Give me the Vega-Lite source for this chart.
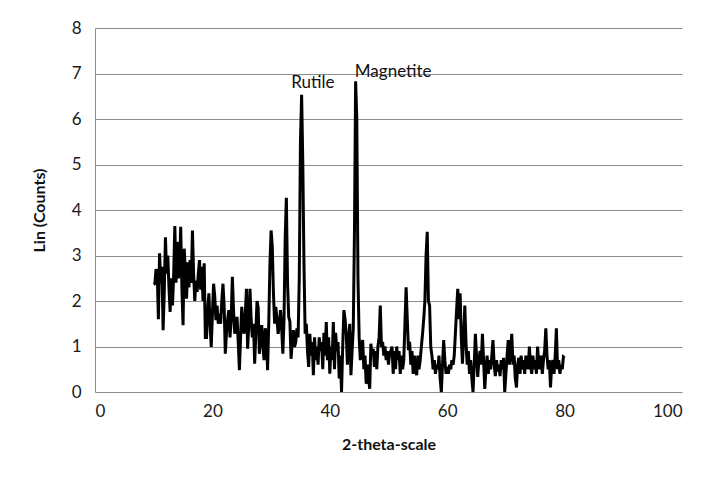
{
  "$schema": "https://vega.github.io/schema/vega-lite/v6.json",
  "autosize": "none",
  "width": 587,
  "height": 364,
  "padding": {"left": 95, "top": 28, "right": 36, "bottom": 102},
  "background": "white",
  "config": {
    "font": "Lato",
    "view": {"stroke": null},
    "axis": {
      "labelFont": "Lato",
      "labelFontSize": 17,
      "labelColor": "#1a1a1a",
      "titleFont": "Lato",
      "titleFontSize": 16,
      "titleFontWeight": "bold",
      "titleColor": "#111111",
      "ticks": false
    }
  },
  "datasets": {
    "scan": [
      {"t":10.0,"c":2.36},{"t":10.2,"c":2.38},{"t":10.4,"c":2.7},{"t":10.6,"c":2.62},{"t":10.8,"c":1.6},
      {"t":11.0,"c":3.05},{"t":11.2,"c":2.4},{"t":11.4,"c":2.75},{"t":11.6,"c":1.36},{"t":11.8,"c":2.2},
      {"t":12.0,"c":3.4},{"t":12.2,"c":2.6},{"t":12.4,"c":3.0},{"t":12.6,"c":2.3},{"t":12.8,"c":1.76},
      {"t":13.0,"c":2.5},{"t":13.2,"c":1.9},{"t":13.4,"c":2.55},{"t":13.6,"c":3.65},{"t":13.8,"c":2.4},
      {"t":14.0,"c":3.3},{"t":14.2,"c":2.5},{"t":14.4,"c":2.7},{"t":14.6,"c":3.63},{"t":14.8,"c":2.3},
      {"t":15.0,"c":1.47},{"t":15.2,"c":3.15},{"t":15.4,"c":2.6},{"t":15.6,"c":2.05},{"t":15.8,"c":2.85},
      {"t":16.0,"c":2.3},{"t":16.2,"c":2.9},{"t":16.4,"c":2.4},{"t":16.6,"c":3.55},{"t":16.8,"c":2.6},
      {"t":17.0,"c":2.0},{"t":17.2,"c":2.45},{"t":17.4,"c":2.2},{"t":17.6,"c":2.6},{"t":17.8,"c":2.9},
      {"t":18.0,"c":2.25},{"t":18.2,"c":2.75},{"t":18.4,"c":2.0},{"t":18.6,"c":2.83},{"t":18.8,"c":1.2},
      {"t":19.0,"c":1.2},{"t":19.2,"c":1.8},{"t":19.4,"c":2.17},{"t":19.6,"c":1.5},{"t":19.8,"c":0.99},
      {"t":20.0,"c":1.7},{"t":20.2,"c":2.38},{"t":20.4,"c":2.1},{"t":20.6,"c":1.58},{"t":20.8,"c":1.9},
      {"t":21.0,"c":1.5},{"t":21.2,"c":1.72},{"t":21.4,"c":1.5},{"t":21.6,"c":2.0},{"t":21.8,"c":2.38},
      {"t":22.0,"c":1.9},{"t":22.2,"c":0.84},{"t":22.4,"c":1.3},{"t":22.6,"c":1.6},{"t":22.8,"c":1.8},
      {"t":23.0,"c":1.2},{"t":23.2,"c":1.6},{"t":23.4,"c":2.53},{"t":23.6,"c":1.8},{"t":23.8,"c":1.28},
      {"t":24.0,"c":1.5},{"t":24.2,"c":1.65},{"t":24.4,"c":1.1},{"t":24.6,"c":0.48},{"t":24.8,"c":1.2},
      {"t":25.0,"c":1.87},{"t":25.2,"c":1.5},{"t":25.4,"c":1.28},{"t":25.6,"c":1.7},{"t":25.8,"c":2.27},
      {"t":26.0,"c":0.95},{"t":26.2,"c":1.5},{"t":26.4,"c":2.27},{"t":26.6,"c":1.6},{"t":26.8,"c":1.2},
      {"t":27.0,"c":1.5},{"t":27.2,"c":0.62},{"t":27.4,"c":1.3},{"t":27.6,"c":2.0},{"t":27.8,"c":1.85},
      {"t":28.0,"c":0.84},{"t":28.2,"c":1.2},{"t":28.4,"c":1.47},{"t":28.6,"c":1.0},{"t":28.8,"c":0.7},
      {"t":29.0,"c":1.4},{"t":29.2,"c":1.2},{"t":29.4,"c":0.48},{"t":29.6,"c":1.5},{"t":29.8,"c":2.8},
      {"t":30.0,"c":3.55},{"t":30.2,"c":3.2},{"t":30.4,"c":2.17},{"t":30.6,"c":1.5},{"t":30.8,"c":1.87},
      {"t":31.0,"c":1.6},{"t":31.2,"c":1.28},{"t":31.4,"c":1.5},{"t":31.6,"c":1.8},{"t":31.8,"c":1.4},
      {"t":32.0,"c":0.84},{"t":32.2,"c":1.6},{"t":32.4,"c":3.4},{"t":32.6,"c":4.27},{"t":32.8,"c":2.4},
      {"t":33.0,"c":1.65},{"t":33.2,"c":1.55},{"t":33.4,"c":0.73},{"t":33.6,"c":1.1},{"t":33.8,"c":1.36},
      {"t":34.0,"c":0.99},{"t":34.2,"c":1.1},{"t":34.4,"c":1.4},{"t":34.6,"c":1.2},{"t":34.8,"c":2.5},
      {"t":35.0,"c":5.5},{"t":35.2,"c":6.53},{"t":35.4,"c":5.03},{"t":35.6,"c":2.8},{"t":35.8,"c":1.28},
      {"t":36.0,"c":1.5},{"t":36.2,"c":0.9},{"t":36.4,"c":0.55},{"t":36.6,"c":1.28},{"t":36.8,"c":0.8},
      {"t":37.0,"c":1.1},{"t":37.2,"c":0.37},{"t":37.4,"c":1.2},{"t":37.6,"c":0.7},{"t":37.8,"c":1.0},
      {"t":38.0,"c":0.6},{"t":38.2,"c":1.2},{"t":38.4,"c":0.9},{"t":38.6,"c":1.1},{"t":38.8,"c":0.5},
      {"t":39.0,"c":1.3},{"t":39.2,"c":0.8},{"t":39.4,"c":1.54},{"t":39.6,"c":0.7},{"t":39.8,"c":1.2},
      {"t":40.0,"c":0.4},{"t":40.2,"c":1.0},{"t":40.4,"c":0.7},{"t":40.6,"c":1.54},{"t":40.8,"c":0.5},
      {"t":41.0,"c":1.3},{"t":41.2,"c":0.9},{"t":41.4,"c":1.1},{"t":41.6,"c":0.3},{"t":41.8,"c":0.8},
      {"t":42.0,"c":0.0},{"t":42.2,"c":1.0},{"t":42.4,"c":1.8},{"t":42.6,"c":1.6},{"t":42.8,"c":1.28},
      {"t":43.0,"c":0.6},{"t":43.2,"c":1.1},{"t":43.4,"c":1.5},{"t":43.6,"c":0.37},{"t":43.8,"c":0.9},
      {"t":44.0,"c":1.4},{"t":44.2,"c":3.5},{"t":44.4,"c":6.83},{"t":44.6,"c":6.0},{"t":44.8,"c":2.5},
      {"t":45.0,"c":1.2},{"t":45.2,"c":0.7},{"t":45.4,"c":1.0},{"t":45.6,"c":1.14},{"t":45.8,"c":0.5},
      {"t":46.0,"c":0.8},{"t":46.2,"c":0.18},{"t":46.4,"c":0.6},{"t":46.6,"c":0.3},{"t":46.8,"c":0.07},
      {"t":47.0,"c":1.06},{"t":47.2,"c":0.8},{"t":47.4,"c":0.95},{"t":47.6,"c":0.55},{"t":47.8,"c":0.9},
      {"t":48.0,"c":0.5},{"t":48.2,"c":1.0},{"t":48.4,"c":1.2},{"t":48.6,"c":1.9},{"t":48.8,"c":0.99},
      {"t":49.0,"c":1.1},{"t":49.2,"c":0.8},{"t":49.4,"c":1.0},{"t":49.6,"c":0.7},{"t":49.8,"c":0.9},
      {"t":50.0,"c":0.6},{"t":50.2,"c":0.85},{"t":50.4,"c":0.9},{"t":50.6,"c":1.0},{"t":50.8,"c":0.4},
      {"t":51.0,"c":0.9},{"t":51.2,"c":0.5},{"t":51.4,"c":1.0},{"t":51.6,"c":0.7},{"t":51.8,"c":0.9},
      {"t":52.0,"c":0.4},{"t":52.2,"c":0.8},{"t":52.4,"c":0.5},{"t":52.6,"c":0.7},{"t":52.8,"c":1.5},
      {"t":53.0,"c":2.3},{"t":53.2,"c":1.6},{"t":53.4,"c":0.92},{"t":53.6,"c":1.1},{"t":53.8,"c":0.6},
      {"t":54.0,"c":0.9},{"t":54.2,"c":0.4},{"t":54.4,"c":0.8},{"t":54.6,"c":0.5},{"t":54.8,"c":0.37},
      {"t":55.0,"c":0.8},{"t":55.2,"c":0.5},{"t":55.4,"c":0.7},{"t":55.6,"c":1.0},{"t":55.8,"c":1.28},
      {"t":56.0,"c":1.6},{"t":56.2,"c":2.0},{"t":56.4,"c":3.0},{"t":56.6,"c":3.52},{"t":56.8,"c":2.0},
      {"t":57.0,"c":1.9},{"t":57.2,"c":0.99},{"t":57.4,"c":0.8},{"t":57.6,"c":0.5},{"t":57.8,"c":0.7},
      {"t":58.0,"c":0.4},{"t":58.2,"c":0.6},{"t":58.4,"c":0.5},{"t":58.6,"c":0.8},{"t":58.8,"c":0.3},
      {"t":59.0,"c":0.0},{"t":59.2,"c":0.6},{"t":59.4,"c":1.14},{"t":59.6,"c":0.7},{"t":59.8,"c":0.4},
      {"t":60.0,"c":0.55},{"t":60.2,"c":0.4},{"t":60.4,"c":0.6},{"t":60.6,"c":0.5},{"t":60.8,"c":0.7},
      {"t":61.0,"c":0.6},{"t":61.2,"c":0.8},{"t":61.4,"c":1.3},{"t":61.6,"c":1.8},{"t":61.8,"c":2.27},
      {"t":62.0,"c":1.6},{"t":62.2,"c":2.17},{"t":62.4,"c":1.2},{"t":62.6,"c":0.62},{"t":62.8,"c":1.2},
      {"t":63.0,"c":1.9},{"t":63.2,"c":1.1},{"t":63.4,"c":0.6},{"t":63.6,"c":0.9},{"t":63.8,"c":0.4},
      {"t":64.0,"c":0.7},{"t":64.2,"c":0.3},{"t":64.4,"c":0.0},{"t":64.6,"c":0.6},{"t":64.8,"c":1.28},
      {"t":65.0,"c":0.8},{"t":65.2,"c":0.33},{"t":65.4,"c":0.7},{"t":65.6,"c":0.9},{"t":65.8,"c":0.6},
      {"t":66.0,"c":1.28},{"t":66.2,"c":0.7},{"t":66.4,"c":0.07},{"t":66.6,"c":0.5},{"t":66.8,"c":0.8},
      {"t":67.0,"c":0.4},{"t":67.2,"c":0.7},{"t":67.4,"c":0.5},{"t":67.6,"c":0.8},{"t":67.8,"c":1.14},
      {"t":68.0,"c":0.6},{"t":68.2,"c":0.35},{"t":68.4,"c":0.7},{"t":68.6,"c":0.45},{"t":68.8,"c":0.6},
      {"t":69.0,"c":0.35},{"t":69.2,"c":0.7},{"t":69.4,"c":0.5},{"t":69.6,"c":0.75},{"t":69.8,"c":0.0},
      {"t":70.0,"c":0.4},{"t":70.2,"c":0.8},{"t":70.4,"c":1.14},{"t":70.6,"c":0.6},{"t":70.8,"c":0.9},
      {"t":71.0,"c":1.28},{"t":71.2,"c":0.6},{"t":71.4,"c":0.8},{"t":71.6,"c":0.3},{"t":71.8,"c":0.1},
      {"t":72.0,"c":0.6},{"t":72.2,"c":0.75},{"t":72.4,"c":0.4},{"t":72.6,"c":0.8},{"t":72.8,"c":0.5},
      {"t":73.0,"c":0.7},{"t":73.2,"c":0.4},{"t":73.4,"c":0.8},{"t":73.6,"c":0.6},{"t":73.8,"c":0.5},
      {"t":74.0,"c":1.0},{"t":74.2,"c":0.6},{"t":74.4,"c":0.4},{"t":74.6,"c":0.8},{"t":74.8,"c":0.5},
      {"t":75.0,"c":0.7},{"t":75.2,"c":0.4},{"t":75.4,"c":1.0},{"t":75.6,"c":0.6},{"t":75.8,"c":0.5},
      {"t":76.0,"c":0.8},{"t":76.2,"c":0.4},{"t":76.4,"c":0.7},{"t":76.6,"c":0.9},{"t":76.8,"c":1.4},
      {"t":77.0,"c":0.8},{"t":77.2,"c":0.5},{"t":77.4,"c":0.7},{"t":77.6,"c":0.1},{"t":77.8,"c":0.6},
      {"t":78.0,"c":0.7},{"t":78.2,"c":0.4},{"t":78.4,"c":0.8},{"t":78.6,"c":1.4},{"t":78.8,"c":0.5},
      {"t":79.0,"c":0.7},{"t":79.2,"c":0.4},{"t":79.4,"c":0.6},{"t":79.6,"c":0.5},{"t":79.8,"c":0.77},
      {"t":80.0,"c":0.75}
    ],
    "phases": [
      {"t": 37.1, "c": 6.8, "label": "Rutile"},
      {"t": 50.8, "c": 7.03, "label": "Magnetite"}
    ]
  },
  "layer": [
    {
      "data": {"name": "scan"},
      "mark": {"type": "line", "color": "#000000", "strokeWidth": 3, "strokeJoin": "miter", "strokeMiterLimit": 4},
      "encoding": {
        "x": {
          "field": "t", "type": "quantitative",
          "scale": {"domain": [0, 100], "nice": false, "zero": false},
          "axis": {
            "title": "2-theta-scale",
            "values": [0, 20, 40, 60, 80, 100],
            "grid": false,
            "domain": false,
            "labelPadding": 11,
            "titlePadding": 17
          }
        },
        "y": {
          "field": "c", "type": "quantitative",
          "scale": {"domain": [0, 8], "nice": false},
          "axis": {
            "title": "Lin (Counts)",
            "values": [0, 1, 2, 3, 4, 5, 6, 7, 8],
            "grid": true,
            "gridColor": "#8c8c8c",
            "gridWidth": 1,
            "domain": true,
            "domainColor": "#8c8c8c",
            "labelPadding": 14,
            "titlePadding": 24
          }
        }
      }
    },
    {
      "data": {"name": "phases"},
      "mark": {"type": "text", "font": "Lato", "fontSize": 17, "color": "#111111", "align": "center", "baseline": "middle"},
      "encoding": {
        "x": {"field": "t", "type": "quantitative"},
        "y": {"field": "c", "type": "quantitative"},
        "text": {"field": "label"}
      }
    }
  ]
}
